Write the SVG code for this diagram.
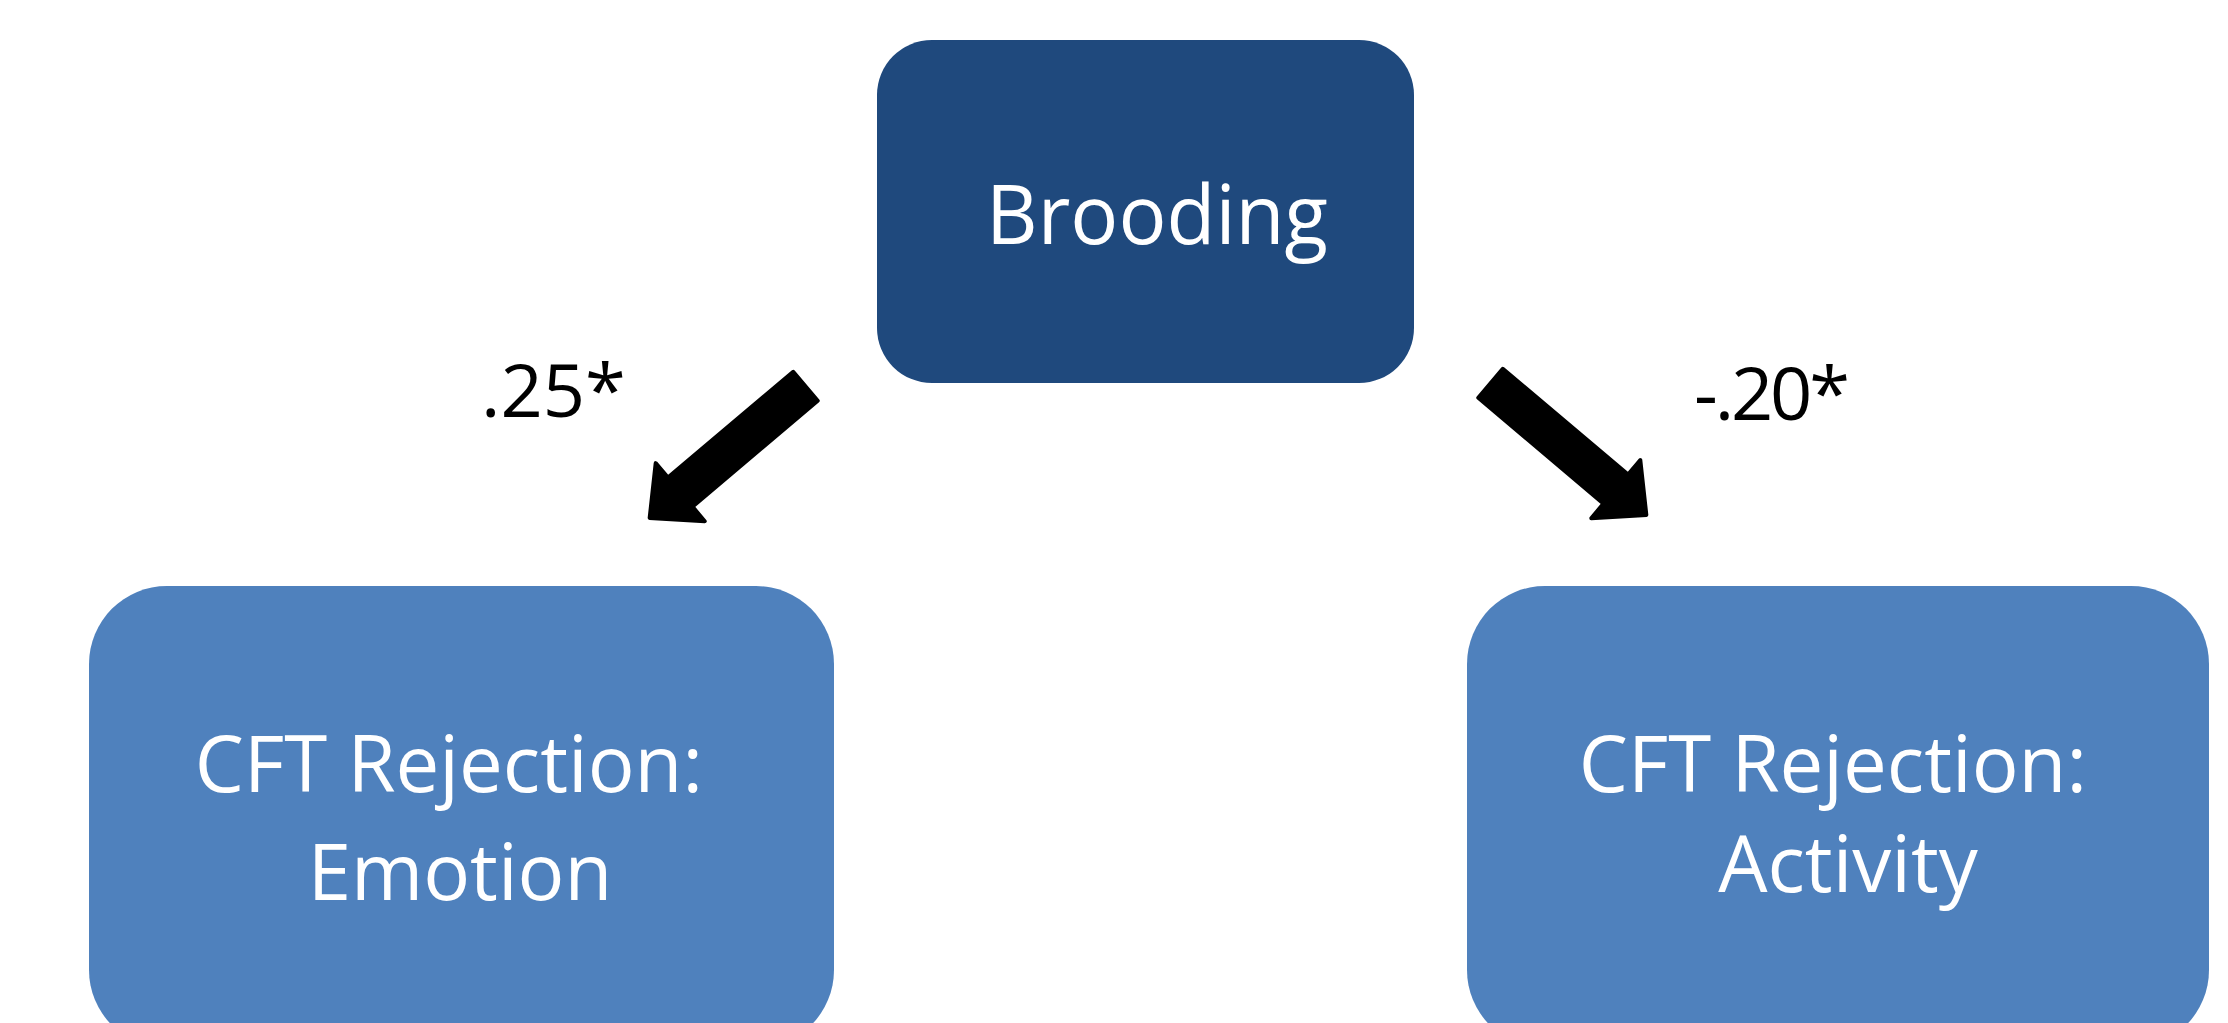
<svg xmlns="http://www.w3.org/2000/svg" width="2228" height="1023" viewBox="0 0 2228 1023">
  <style>
    .lbl { font-family: "Open Sans", "Noto Sans", "Liberation Sans", sans-serif; fill: #ffffff; }
    .coef { font-family: "Open Sans", "Noto Sans", "Liberation Sans", sans-serif; fill: #000000; font-size: 74px; }
    .arrow { fill: #000000; stroke: #000000; stroke-width: 4; stroke-linejoin: round; }
  </style>
  <defs>
    <polygon id="blockArrow" class="arrow" points="2,-19 166,-19 166,-38 206,0 166,38 166,19 2,19"/>
  </defs>
  <rect width="2228" height="1023" fill="#ffffff"/>

  <g id="node-brooding">
    <rect x="877" y="40" width="537" height="343" rx="55" ry="55" fill="#1F497D"/>
    <text class="lbl" x="1157" y="244" font-size="82" text-anchor="middle" textLength="342" lengthAdjust="spacingAndGlyphs">Brooding</text>
  </g>

  <g id="node-emotion">
    <rect x="89" y="586" width="745" height="462" rx="78" ry="78" fill="#4F81BD"/>
    <text class="lbl" font-size="78" text-anchor="middle">
      <tspan x="459" y="792">CFT Rejection:</tspan>
      <tspan x="460" y="900">Emotion</tspan>
    </text>
  </g>

  <g id="node-activity">
    <rect x="1467" y="586" width="742" height="462" rx="78" ry="78" fill="#4F81BD"/>
    <text class="lbl" font-size="78" text-anchor="middle">
      <tspan x="1843" y="792">CFT Rejection:</tspan>
      <tspan x="1848" y="892">Activity</tspan>
    </text>
  </g>

  <g id="connectors">
    <use href="#blockArrow" transform="translate(807,385) rotate(139.8)"/>
    <use href="#blockArrow" transform="translate(1489,382) rotate(40.2)"/>
    <text class="coef" x="481" y="417">.25*</text>
    <text class="coef" x="1694" y="420" textLength="156" lengthAdjust="spacing">-.20*</text>
  </g>
</svg>
